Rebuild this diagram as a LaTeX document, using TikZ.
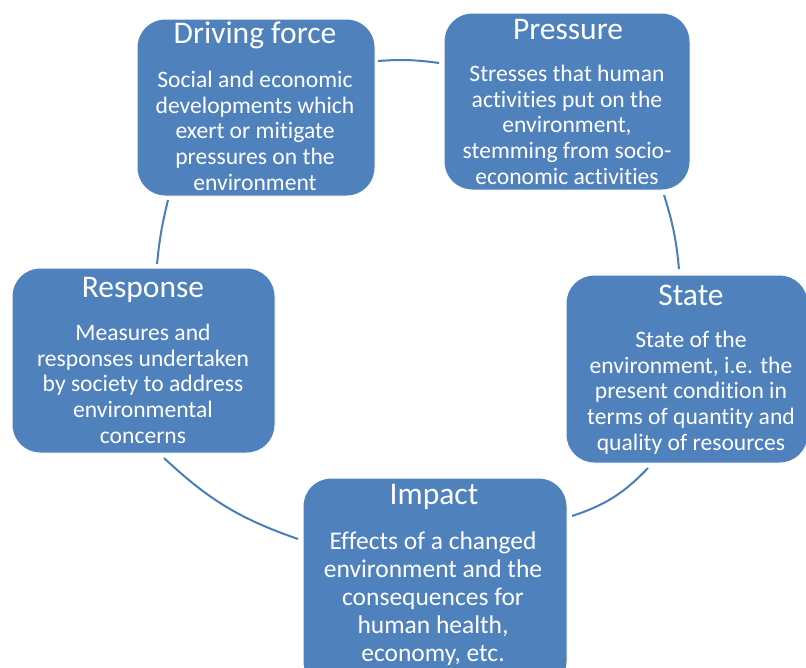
\documentclass[tikz,border=0pt]{standalone}
\usepackage{fontspec}
\setmainfont{Carlito}[RawFeature={-liga;-clig;-calt;-dlig}]
\definecolor{boxblue}{RGB}{79,129,189}
\definecolor{lineblue}{RGB}{74,126,187}
\newcommand{\nolig}{\kern0pt}
\begin{document}
\begin{tikzpicture}[x=1pt,y=1pt,
  box/.style={draw=white, line width=1pt, fill=boxblue, rounded corners=28pt, inner sep=0pt},
  ttl/.style={text=white, font=\fontsize{31.5}{37}\selectfont, anchor=base, inner sep=0pt},
  bdy/.style={text=white, font=\fontsize{23.6}{25.8}\selectfont, align=center, anchor=north, inner sep=0pt},
  bdybig/.style={bdy, font=\fontsize{25.5}{28}\selectfont},
  link/.style={draw=lineblue, line width=2pt}
]
\useasboundingbox (0,0) rectangle (806,-667);
\fill[white] (0,0) rectangle (806,-667);

% boxes
\node[box, minimum width=238pt, minimum height=177pt] (drv) at (256,-107.5) {};
\node[box, minimum width=246pt, minimum height=177pt] (prs) at (567,-101.5) {};
\node[box, minimum width=242pt, minimum height=188pt] (sta) at (687,-369) {};
\node[box, minimum width=264pt, minimum height=212pt] (imp) at (435,-584) {};
\node[box, minimum width=263pt, minimum height=185pt] (rsp) at (143.5,-360.5) {};

% titles
\node[ttl] (drvt) at (255,-43) {Driving force};
\node[ttl] (prst) at (568,-39) {Pressure};
\node[ttl] (stat) at (691,-305) {State};
\node[ttl] (impt) at (434,-504) {Impact};
\node[ttl] (rspt) at (143,-297) {Response};

% bodies
\node[bdy] (drvb) at (255,-69) {\rule{0pt}{18pt}Social and economic\\developments which\\exert or mit\nolig igate\\pressures on the\\environment};
\node[bdy] (prsb) at (567,-63) {\rule{0pt}{18pt}Stresses that human\\act\nolig ivit\nolig ies put on the\\environment,\\stemming from socio-\\economic act\nolig ivit\nolig ies};
\node[bdy] (stab) at (691,-329) {\rule{0pt}{18pt}State of the\\environment, i.e. the\\present condition in\\terms of quant\nolig ity and\\quality of resources};
\node[bdybig] (impb) at (433,-529) {\rule{0pt}{20pt}Ef\nolig fects of a changed\\environment and the\\consequences for\\human health,\\economy, etc.};
\node[bdy] (rspb) at (143,-322) {\rule{0pt}{18pt}Measures and\\responses undertaken\\by society to address\\environmental\\concerns};

% connector ends
\coordinate (c1a) at (378,-61);
\coordinate (c1b) at (439,-63);
\coordinate (c2a) at (664,-195);
\coordinate (c2b) at (679,-269);
\coordinate (c3a) at (648,-468);
\coordinate (c3b) at (572,-516);
\coordinate (c4a) at (298,-539);
\coordinate (c4b) at (164,-458);
\coordinate (c5a) at (157,-264);
\coordinate (c5b) at (168,-200);

\draw[link] (c1a) to[bend left=6] (c1b);
\draw[link] (c2a) to[bend left=6] (c2b);
\draw[link] (c3a) to[bend left=14] (c3b);
\draw[link] (c4a) to[bend left=12] (c4b);
\draw[link] (c5a) to[bend left=4] (c5b);
\end{tikzpicture}
\end{document}
